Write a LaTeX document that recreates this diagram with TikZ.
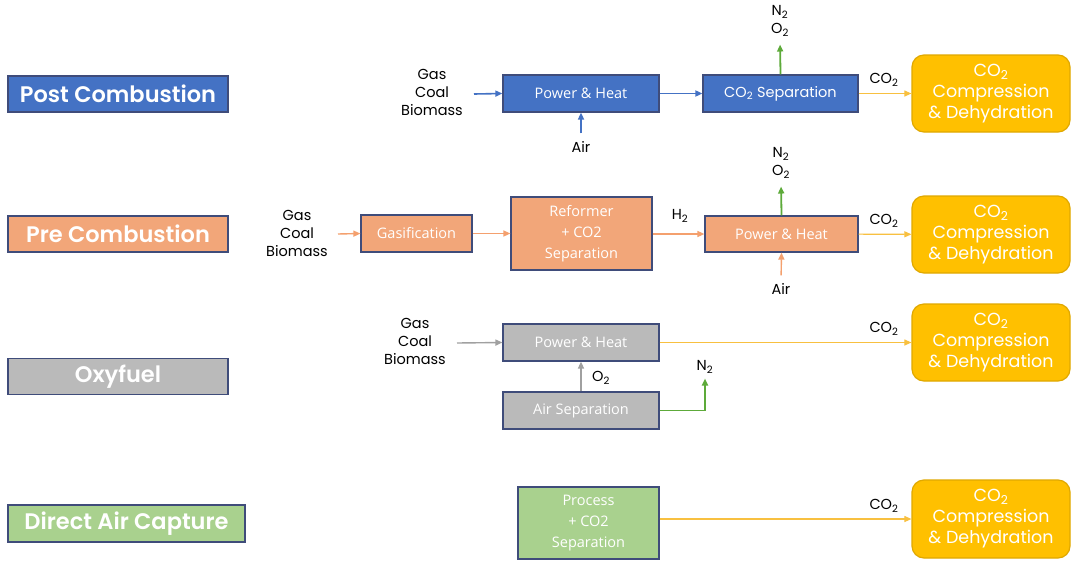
\documentclass[tikz,border=0pt]{standalone}
\usepackage{fontspec}
\setmainfont{Open Sans}
\newfontfamily\pop{Poppins}
\newfontfamily\popsb{Poppins SemiBold}
\usetikzlibrary{arrows.meta}
\definecolor{blueF}{HTML}{4472C4}
\definecolor{orangeF}{HTML}{F2A679}
\definecolor{grayF}{HTML}{BABABA}
\definecolor{greenF}{HTML}{A9D18E}
\definecolor{yellowF}{HTML}{FFC000}
\definecolor{yellowE}{HTML}{E0A800}
\definecolor{edgeC}{HTML}{3F4C7A}
\definecolor{greenA}{HTML}{5DAA3A}
\definecolor{orangeA}{HTML}{F4A06E}
\definecolor{grayA}{HTML}{A0A0A0}
\definecolor{yellowA}{HTML}{F8C040}
\tikzset{
  lab/.style={draw=edgeC, line width=1.2pt, text=white, font=\popsb\fontsize{22.5}{24}\selectfont, minimum height=36pt, inner sep=0pt},
  box/.style={draw=edgeC, line width=1.2pt, text=white, font=\fontsize{14.5}{21}\selectfont, align=center, inner sep=0pt},
  comp/.style={draw=yellowE, line width=1.2pt, fill=yellowF, rounded corners=12pt, text=white, font=\pop\fontsize{17.5}{21}\selectfont, align=center, minimum width=158pt, minimum height=77pt, inner sep=0pt},
  txt/.style={text=black, font=\pop\fontsize{14.5}{18}\selectfont, align=center, inner sep=1pt},
  tip/.style={-{Triangle[length=7pt,width=6pt]}},
  barrow/.style={tip, draw=blueF, line width=1.6pt},
  oarrow/.style={tip, draw=orangeA, line width=1.4pt},
  garrow/.style={tip, draw=grayA, line width=1.4pt},
  grarrow/.style={tip, draw=greenA, line width=1.8pt},
  yarrow/.style={tip, draw=yellowA, line width=1.1pt},
}
\begin{document}
\begin{tikzpicture}[x=1pt,y=-1pt]
\useasboundingbox (0,0) rectangle (1080,571);
\fill[white] (0,0) rectangle (1080,571);
% ---- Row 1: Post Combustion
\node[lab, fill=blueF, minimum width=220pt] (post) at (118,94) {Post Combustion};
\node[txt] (src1) at (432,92) {Gas\\Coal\\Biomass};
\coordinate (in1) at (474,94);
\node[box, fill=blueF, minimum width=156pt, minimum height=37pt] (ph1) at (581,93.5) {Power \& Heat};
\node[box, fill=blueF, minimum width=155pt, minimum height=37pt, font=\pop\fontsize{14.5}{18}\selectfont] (sep1) at (780.5,93.5) {CO\textsubscript{2} Separation};
\node[comp] (comp1) at (991,93.5) {CO\textsubscript{2}\\Compression\\\& Dehydration};
\node[txt] (no1) at (780,21) {N\textsubscript{2}\\O\textsubscript{2}};
\node[txt] (air1) at (581,147) {Air};
\node[txt] (co1) at (884,80) {CO\textsubscript{2}};
\draw[barrow] (in1) -- (ph1.west);
\draw[barrow] (ph1) -- (sep1);
\draw[grarrow, shorten >=7pt] (sep1.north) -- (no1.south);
\draw[yarrow] (sep1) -- (comp1);
\draw[barrow, shorten <=7pt] (air1.north) -- (ph1.south);
% ---- Row 2: Pre Combustion
\node[lab, fill=orangeF, minimum width=220pt] (pre) at (118,234) {Pre Combustion};
\node[txt] (src2) at (297,233) {Gas\\Coal\\Biomass};
\coordinate (in2) at (338,234);
\node[box, fill=orangeF, minimum width=111pt, minimum height=37pt] (gas) at (416.5,233.5) {Gasification};
\node[box, fill=orangeF, minimum width=141pt, minimum height=73pt] (ref) at (581.5,233.5) {Reformer\\+ CO2\\Separation};
\node[txt] (h2) at (680,216) {H\textsubscript{2}};
\node[box, fill=orangeF, minimum width=153pt, minimum height=36pt] (ph2) at (781.5,234) {Power \& Heat};
\node[txt] (no2) at (781,163) {N\textsubscript{2}\\O\textsubscript{2}};
\node[txt] (air2) at (781,289) {Air};
\node[txt] (co2) at (884,221) {CO\textsubscript{2}};
\node[comp] (comp2) at (991,234.5) {CO\textsubscript{2}\\Compression\\\& Dehydration};
\draw[oarrow] (in2) -- (gas.west);
\draw[oarrow] (gas) -- (ref);
\draw[oarrow] (ref.east |- ph2.west) -- (ph2.west);
\draw[grarrow, shorten >=7pt] (ph2.north) -- (no2.south);
\draw[oarrow, shorten <=7pt] (air2.north) -- (ph2.south);
\draw[yarrow] (ph2) -- (comp2);
% ---- Row 3: Oxyfuel
\node[lab, fill=grayF, minimum width=220pt] (oxy) at (118,376.5) {Oxyfuel};
\node[txt] (src3) at (415,341) {Gas\\Coal\\Biomass};
\coordinate (in3) at (457,343);
\node[box, fill=grayF, minimum width=156pt, minimum height=37pt] (ph3) at (581,342.5) {Power \& Heat};
\node[box, fill=grayF, minimum width=156pt, minimum height=37pt] (asep) at (581,410.5) {Air Separation};
\node[txt] (o2) at (601,378) {O\textsubscript{2}};
\node[txt] (n2) at (705,367) {N\textsubscript{2}};
\node[txt] (co3) at (884,329) {CO\textsubscript{2}};
\node[comp] (comp3) at (991,342.5) {CO\textsubscript{2}\\Compression\\\& Dehydration};
\draw[garrow] (in3) -- (ph3.west);
\draw[garrow] (asep) -- (ph3);
\draw[yarrow] (ph3) -- (comp3);
\draw[grarrow, shorten >=4pt] (asep.east) -| (n2.south);
% ---- Row 4: Direct Air Capture
\node[lab, fill=greenF, minimum width=237pt, minimum height=37pt] (dac) at (126.5,523.5) {Direct Air Capture};
\node[box, fill=greenF, minimum width=141pt, minimum height=72pt] (proc) at (588.5,523) {Process\\+ CO2\\Separation};
\node[txt] (co4) at (884,506) {CO\textsubscript{2}};
\node[comp, minimum height=78pt] (comp4) at (991,519) {CO\textsubscript{2}\\Compression\\\& Dehydration};
\draw[yarrow] (proc.east |- comp4.west) -- (comp4.west);
\end{tikzpicture}
\end{document}
